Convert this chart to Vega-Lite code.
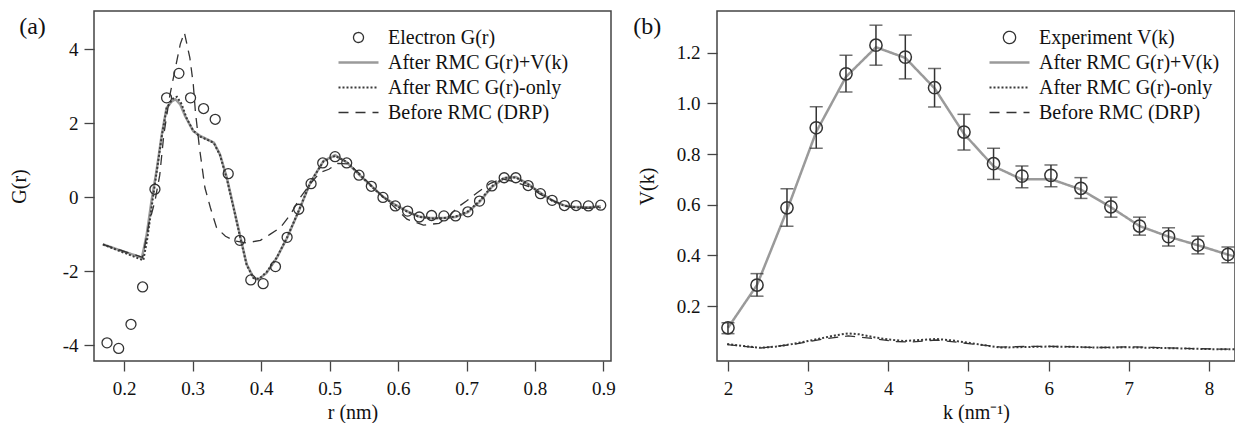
{
  "$schema": "https://vega.github.io/schema/vega-lite/v6.json",
  "background": "white",
  "padding": {"left": 8, "top": 10, "right": 0, "bottom": 0},
  "spacing": 15,
  "datasets": {
    "gr_exp": [
      {"r": 0.175, "G": -3.93, "series": "Electron G(r)"},
      {"r": 0.192, "G": -4.08, "series": "Electron G(r)"},
      {"r": 0.210, "G": -3.43, "series": "Electron G(r)"},
      {"r": 0.227, "G": -2.42, "series": "Electron G(r)"},
      {"r": 0.245, "G": 0.22, "series": "Electron G(r)"},
      {"r": 0.262, "G": 2.69, "series": "Electron G(r)"},
      {"r": 0.280, "G": 3.35, "series": "Electron G(r)"},
      {"r": 0.297, "G": 2.69, "series": "Electron G(r)"},
      {"r": 0.316, "G": 2.40, "series": "Electron G(r)"},
      {"r": 0.333, "G": 2.11, "series": "Electron G(r)"},
      {"r": 0.352, "G": 0.64, "series": "Electron G(r)"},
      {"r": 0.369, "G": -1.16, "series": "Electron G(r)"},
      {"r": 0.385, "G": -2.23, "series": "Electron G(r)"},
      {"r": 0.403, "G": -2.33, "series": "Electron G(r)"},
      {"r": 0.421, "G": -1.87, "series": "Electron G(r)"},
      {"r": 0.438, "G": -1.08, "series": "Electron G(r)"},
      {"r": 0.455, "G": -0.32, "series": "Electron G(r)"},
      {"r": 0.473, "G": 0.37, "series": "Electron G(r)"},
      {"r": 0.490, "G": 0.93, "series": "Electron G(r)"},
      {"r": 0.508, "G": 1.10, "series": "Electron G(r)"},
      {"r": 0.525, "G": 0.93, "series": "Electron G(r)"},
      {"r": 0.543, "G": 0.60, "series": "Electron G(r)"},
      {"r": 0.561, "G": 0.30, "series": "Electron G(r)"},
      {"r": 0.578, "G": 0.00, "series": "Electron G(r)"},
      {"r": 0.596, "G": -0.23, "series": "Electron G(r)"},
      {"r": 0.614, "G": -0.37, "series": "Electron G(r)"},
      {"r": 0.631, "G": -0.53, "series": "Electron G(r)"},
      {"r": 0.649, "G": -0.49, "series": "Electron G(r)"},
      {"r": 0.667, "G": -0.50, "series": "Electron G(r)"},
      {"r": 0.684, "G": -0.50, "series": "Electron G(r)"},
      {"r": 0.702, "G": -0.39, "series": "Electron G(r)"},
      {"r": 0.719, "G": -0.10, "series": "Electron G(r)"},
      {"r": 0.737, "G": 0.31, "series": "Electron G(r)"},
      {"r": 0.755, "G": 0.53, "series": "Electron G(r)"},
      {"r": 0.772, "G": 0.53, "series": "Electron G(r)"},
      {"r": 0.790, "G": 0.32, "series": "Electron G(r)"},
      {"r": 0.808, "G": 0.10, "series": "Electron G(r)"},
      {"r": 0.825, "G": -0.08, "series": "Electron G(r)"},
      {"r": 0.843, "G": -0.22, "series": "Electron G(r)"},
      {"r": 0.860, "G": -0.22, "series": "Electron G(r)"},
      {"r": 0.878, "G": -0.23, "series": "Electron G(r)"},
      {"r": 0.896, "G": -0.21, "series": "Electron G(r)"}
    ],
    "gr_lines": [
      {"r": 0.169, "G": -1.27, "series": "After RMC G(r)+V(k)"},
      {"r": 0.226, "G": -1.63, "series": "After RMC G(r)+V(k)"},
      {"r": 0.233, "G": -1.00, "series": "After RMC G(r)+V(k)"},
      {"r": 0.240, "G": -0.10, "series": "After RMC G(r)+V(k)"},
      {"r": 0.248, "G": 0.80, "series": "After RMC G(r)+V(k)"},
      {"r": 0.255, "G": 1.70, "series": "After RMC G(r)+V(k)"},
      {"r": 0.262, "G": 2.42, "series": "After RMC G(r)+V(k)"},
      {"r": 0.270, "G": 2.60, "series": "After RMC G(r)+V(k)"},
      {"r": 0.275, "G": 2.65, "series": "After RMC G(r)+V(k)"},
      {"r": 0.282, "G": 2.51, "series": "After RMC G(r)+V(k)"},
      {"r": 0.289, "G": 2.20, "series": "After RMC G(r)+V(k)"},
      {"r": 0.301, "G": 1.79, "series": "After RMC G(r)+V(k)"},
      {"r": 0.311, "G": 1.66, "series": "After RMC G(r)+V(k)"},
      {"r": 0.321, "G": 1.57, "series": "After RMC G(r)+V(k)"},
      {"r": 0.331, "G": 1.48, "series": "After RMC G(r)+V(k)"},
      {"r": 0.340, "G": 1.16, "series": "After RMC G(r)+V(k)"},
      {"r": 0.350, "G": 0.53, "series": "After RMC G(r)+V(k)"},
      {"r": 0.360, "G": -0.28, "series": "After RMC G(r)+V(k)"},
      {"r": 0.370, "G": -1.09, "series": "After RMC G(r)+V(k)"},
      {"r": 0.379, "G": -1.81, "series": "After RMC G(r)+V(k)"},
      {"r": 0.389, "G": -2.17, "series": "After RMC G(r)+V(k)"},
      {"r": 0.396, "G": -2.22, "series": "After RMC G(r)+V(k)"},
      {"r": 0.408, "G": -2.04, "series": "After RMC G(r)+V(k)"},
      {"r": 0.423, "G": -1.63, "series": "After RMC G(r)+V(k)"},
      {"r": 0.438, "G": -1.09, "series": "After RMC G(r)+V(k)"},
      {"r": 0.455, "G": -0.37, "series": "After RMC G(r)+V(k)"},
      {"r": 0.472, "G": 0.40, "series": "After RMC G(r)+V(k)"},
      {"r": 0.491, "G": 0.98, "series": "After RMC G(r)+V(k)"},
      {"r": 0.508, "G": 1.14, "series": "After RMC G(r)+V(k)"},
      {"r": 0.525, "G": 0.95, "series": "After RMC G(r)+V(k)"},
      {"r": 0.543, "G": 0.62, "series": "After RMC G(r)+V(k)"},
      {"r": 0.561, "G": 0.31, "series": "After RMC G(r)+V(k)"},
      {"r": 0.578, "G": 0.02, "series": "After RMC G(r)+V(k)"},
      {"r": 0.596, "G": -0.20, "series": "After RMC G(r)+V(k)"},
      {"r": 0.614, "G": -0.38, "series": "After RMC G(r)+V(k)"},
      {"r": 0.631, "G": -0.52, "series": "After RMC G(r)+V(k)"},
      {"r": 0.649, "G": -0.56, "series": "After RMC G(r)+V(k)"},
      {"r": 0.667, "G": -0.56, "series": "After RMC G(r)+V(k)"},
      {"r": 0.684, "G": -0.53, "series": "After RMC G(r)+V(k)"},
      {"r": 0.702, "G": -0.40, "series": "After RMC G(r)+V(k)"},
      {"r": 0.719, "G": -0.12, "series": "After RMC G(r)+V(k)"},
      {"r": 0.737, "G": 0.28, "series": "After RMC G(r)+V(k)"},
      {"r": 0.755, "G": 0.52, "series": "After RMC G(r)+V(k)"},
      {"r": 0.772, "G": 0.55, "series": "After RMC G(r)+V(k)"},
      {"r": 0.790, "G": 0.36, "series": "After RMC G(r)+V(k)"},
      {"r": 0.808, "G": 0.12, "series": "After RMC G(r)+V(k)"},
      {"r": 0.825, "G": -0.08, "series": "After RMC G(r)+V(k)"},
      {"r": 0.843, "G": -0.22, "series": "After RMC G(r)+V(k)"},
      {"r": 0.860, "G": -0.26, "series": "After RMC G(r)+V(k)"},
      {"r": 0.878, "G": -0.27, "series": "After RMC G(r)+V(k)"},
      {"r": 0.896, "G": -0.24, "series": "After RMC G(r)+V(k)"},
      {"r": 0.169, "G": -1.27, "series": "After RMC G(r)-only"},
      {"r": 0.228, "G": -1.70, "series": "After RMC G(r)-only"},
      {"r": 0.234, "G": -1.10, "series": "After RMC G(r)-only"},
      {"r": 0.241, "G": -0.15, "series": "After RMC G(r)-only"},
      {"r": 0.248, "G": 0.75, "series": "After RMC G(r)-only"},
      {"r": 0.255, "G": 1.65, "series": "After RMC G(r)-only"},
      {"r": 0.262, "G": 2.40, "series": "After RMC G(r)-only"},
      {"r": 0.270, "G": 2.65, "series": "After RMC G(r)-only"},
      {"r": 0.277, "G": 2.72, "series": "After RMC G(r)-only"},
      {"r": 0.284, "G": 2.52, "series": "After RMC G(r)-only"},
      {"r": 0.291, "G": 2.15, "series": "After RMC G(r)-only"},
      {"r": 0.301, "G": 1.80, "series": "After RMC G(r)-only"},
      {"r": 0.311, "G": 1.64, "series": "After RMC G(r)-only"},
      {"r": 0.321, "G": 1.56, "series": "After RMC G(r)-only"},
      {"r": 0.331, "G": 1.47, "series": "After RMC G(r)-only"},
      {"r": 0.340, "G": 1.14, "series": "After RMC G(r)-only"},
      {"r": 0.350, "G": 0.50, "series": "After RMC G(r)-only"},
      {"r": 0.360, "G": -0.30, "series": "After RMC G(r)-only"},
      {"r": 0.370, "G": -1.12, "series": "After RMC G(r)-only"},
      {"r": 0.379, "G": -1.83, "series": "After RMC G(r)-only"},
      {"r": 0.389, "G": -2.18, "series": "After RMC G(r)-only"},
      {"r": 0.397, "G": -2.20, "series": "After RMC G(r)-only"},
      {"r": 0.408, "G": -2.02, "series": "After RMC G(r)-only"},
      {"r": 0.423, "G": -1.62, "series": "After RMC G(r)-only"},
      {"r": 0.438, "G": -1.08, "series": "After RMC G(r)-only"},
      {"r": 0.455, "G": -0.36, "series": "After RMC G(r)-only"},
      {"r": 0.472, "G": 0.41, "series": "After RMC G(r)-only"},
      {"r": 0.491, "G": 0.97, "series": "After RMC G(r)-only"},
      {"r": 0.508, "G": 1.12, "series": "After RMC G(r)-only"},
      {"r": 0.525, "G": 0.96, "series": "After RMC G(r)-only"},
      {"r": 0.543, "G": 0.63, "series": "After RMC G(r)-only"},
      {"r": 0.561, "G": 0.30, "series": "After RMC G(r)-only"},
      {"r": 0.578, "G": 0.01, "series": "After RMC G(r)-only"},
      {"r": 0.596, "G": -0.21, "series": "After RMC G(r)-only"},
      {"r": 0.614, "G": -0.39, "series": "After RMC G(r)-only"},
      {"r": 0.631, "G": -0.53, "series": "After RMC G(r)-only"},
      {"r": 0.649, "G": -0.57, "series": "After RMC G(r)-only"},
      {"r": 0.667, "G": -0.56, "series": "After RMC G(r)-only"},
      {"r": 0.684, "G": -0.52, "series": "After RMC G(r)-only"},
      {"r": 0.702, "G": -0.38, "series": "After RMC G(r)-only"},
      {"r": 0.719, "G": -0.10, "series": "After RMC G(r)-only"},
      {"r": 0.737, "G": 0.30, "series": "After RMC G(r)-only"},
      {"r": 0.755, "G": 0.53, "series": "After RMC G(r)-only"},
      {"r": 0.772, "G": 0.54, "series": "After RMC G(r)-only"},
      {"r": 0.790, "G": 0.35, "series": "After RMC G(r)-only"},
      {"r": 0.808, "G": 0.11, "series": "After RMC G(r)-only"},
      {"r": 0.825, "G": -0.09, "series": "After RMC G(r)-only"},
      {"r": 0.843, "G": -0.23, "series": "After RMC G(r)-only"},
      {"r": 0.860, "G": -0.27, "series": "After RMC G(r)-only"},
      {"r": 0.878, "G": -0.28, "series": "After RMC G(r)-only"},
      {"r": 0.896, "G": -0.25, "series": "After RMC G(r)-only"},
      {"r": 0.169, "G": -1.27, "series": "Before RMC (DRP)"},
      {"r": 0.227, "G": -1.62, "series": "Before RMC (DRP)"},
      {"r": 0.236, "G": -0.73, "series": "Before RMC (DRP)"},
      {"r": 0.245, "G": -0.10, "series": "Before RMC (DRP)"},
      {"r": 0.252, "G": 0.60, "series": "Before RMC (DRP)"},
      {"r": 0.258, "G": 1.70, "series": "Before RMC (DRP)"},
      {"r": 0.267, "G": 2.78, "series": "Before RMC (DRP)"},
      {"r": 0.276, "G": 3.60, "series": "Before RMC (DRP)"},
      {"r": 0.282, "G": 4.14, "series": "Before RMC (DRP)"},
      {"r": 0.288, "G": 4.45, "series": "Before RMC (DRP)"},
      {"r": 0.296, "G": 3.77, "series": "Before RMC (DRP)"},
      {"r": 0.301, "G": 3.05, "series": "Before RMC (DRP)"},
      {"r": 0.304, "G": 2.33, "series": "Before RMC (DRP)"},
      {"r": 0.310, "G": 1.34, "series": "Before RMC (DRP)"},
      {"r": 0.318, "G": 0.26, "series": "Before RMC (DRP)"},
      {"r": 0.326, "G": -0.28, "series": "Before RMC (DRP)"},
      {"r": 0.335, "G": -0.82, "series": "Before RMC (DRP)"},
      {"r": 0.348, "G": -1.05, "series": "Before RMC (DRP)"},
      {"r": 0.362, "G": -1.18, "series": "Before RMC (DRP)"},
      {"r": 0.379, "G": -1.23, "series": "Before RMC (DRP)"},
      {"r": 0.399, "G": -1.16, "series": "Before RMC (DRP)"},
      {"r": 0.413, "G": -1.00, "series": "Before RMC (DRP)"},
      {"r": 0.428, "G": -0.82, "series": "Before RMC (DRP)"},
      {"r": 0.443, "G": -0.46, "series": "Before RMC (DRP)"},
      {"r": 0.457, "G": -0.01, "series": "Before RMC (DRP)"},
      {"r": 0.472, "G": 0.37, "series": "Before RMC (DRP)"},
      {"r": 0.486, "G": 0.67, "series": "Before RMC (DRP)"},
      {"r": 0.499, "G": 0.76, "series": "Before RMC (DRP)"},
      {"r": 0.512, "G": 0.92, "series": "Before RMC (DRP)"},
      {"r": 0.528, "G": 0.90, "series": "Before RMC (DRP)"},
      {"r": 0.545, "G": 0.62, "series": "Before RMC (DRP)"},
      {"r": 0.563, "G": 0.28, "series": "Before RMC (DRP)"},
      {"r": 0.580, "G": -0.02, "series": "Before RMC (DRP)"},
      {"r": 0.597, "G": -0.30, "series": "Before RMC (DRP)"},
      {"r": 0.613, "G": -0.59, "series": "Before RMC (DRP)"},
      {"r": 0.637, "G": -0.75, "series": "Before RMC (DRP)"},
      {"r": 0.660, "G": -0.70, "series": "Before RMC (DRP)"},
      {"r": 0.675, "G": -0.50, "series": "Before RMC (DRP)"},
      {"r": 0.686, "G": -0.28, "series": "Before RMC (DRP)"},
      {"r": 0.700, "G": -0.10, "series": "Before RMC (DRP)"},
      {"r": 0.715, "G": 0.12, "series": "Before RMC (DRP)"},
      {"r": 0.735, "G": 0.38, "series": "Before RMC (DRP)"},
      {"r": 0.752, "G": 0.50, "series": "Before RMC (DRP)"},
      {"r": 0.770, "G": 0.42, "series": "Before RMC (DRP)"},
      {"r": 0.790, "G": 0.30, "series": "Before RMC (DRP)"},
      {"r": 0.808, "G": 0.08, "series": "Before RMC (DRP)"},
      {"r": 0.828, "G": -0.10, "series": "Before RMC (DRP)"},
      {"r": 0.848, "G": -0.25, "series": "Before RMC (DRP)"},
      {"r": 0.868, "G": -0.30, "series": "Before RMC (DRP)"},
      {"r": 0.896, "G": -0.28, "series": "Before RMC (DRP)"}
    ],
    "vk_exp": [
      {"k": 2.000, "V": 0.114, "lo": 0.091, "hi": 0.134, "series": "Experiment V(k)"},
      {"k": 2.362, "V": 0.283, "lo": 0.239, "hi": 0.328, "series": "Experiment V(k)"},
      {"k": 2.736, "V": 0.588, "lo": 0.515, "hi": 0.663, "series": "Experiment V(k)"},
      {"k": 3.101, "V": 0.904, "lo": 0.823, "hi": 0.987, "series": "Experiment V(k)"},
      {"k": 3.472, "V": 1.117, "lo": 1.045, "hi": 1.190, "series": "Experiment V(k)"},
      {"k": 3.846, "V": 1.230, "lo": 1.151, "hi": 1.309, "series": "Experiment V(k)"},
      {"k": 4.212, "V": 1.183, "lo": 1.097, "hi": 1.270, "series": "Experiment V(k)"},
      {"k": 4.577, "V": 1.062, "lo": 0.986, "hi": 1.138, "series": "Experiment V(k)"},
      {"k": 4.944, "V": 0.887, "lo": 0.816, "hi": 0.957, "series": "Experiment V(k)"},
      {"k": 5.313, "V": 0.762, "lo": 0.700, "hi": 0.823, "series": "Experiment V(k)"},
      {"k": 5.667, "V": 0.713, "lo": 0.667, "hi": 0.753, "series": "Experiment V(k)"},
      {"k": 6.029, "V": 0.716, "lo": 0.671, "hi": 0.757, "series": "Experiment V(k)"},
      {"k": 6.403, "V": 0.665, "lo": 0.625, "hi": 0.707, "series": "Experiment V(k)"},
      {"k": 6.777, "V": 0.592, "lo": 0.551, "hi": 0.630, "series": "Experiment V(k)"},
      {"k": 7.134, "V": 0.516, "lo": 0.480, "hi": 0.551, "series": "Experiment V(k)"},
      {"k": 7.496, "V": 0.474, "lo": 0.437, "hi": 0.509, "series": "Experiment V(k)"},
      {"k": 7.863, "V": 0.441, "lo": 0.406, "hi": 0.476, "series": "Experiment V(k)"},
      {"k": 8.237, "V": 0.404, "lo": 0.371, "hi": 0.433, "series": "Experiment V(k)"}
    ],
    "vk_lines": [
      {"k": 2.000, "V": 0.114, "series": "After RMC G(r)+V(k)"},
      {"k": 2.362, "V": 0.283, "series": "After RMC G(r)+V(k)"},
      {"k": 2.736, "V": 0.578, "series": "After RMC G(r)+V(k)"},
      {"k": 3.101, "V": 0.888, "series": "After RMC G(r)+V(k)"},
      {"k": 3.472, "V": 1.105, "series": "After RMC G(r)+V(k)"},
      {"k": 3.846, "V": 1.222, "series": "After RMC G(r)+V(k)"},
      {"k": 4.212, "V": 1.180, "series": "After RMC G(r)+V(k)"},
      {"k": 4.577, "V": 1.060, "series": "After RMC G(r)+V(k)"},
      {"k": 4.944, "V": 0.880, "series": "After RMC G(r)+V(k)"},
      {"k": 5.313, "V": 0.752, "series": "After RMC G(r)+V(k)"},
      {"k": 5.667, "V": 0.700, "series": "After RMC G(r)+V(k)"},
      {"k": 6.029, "V": 0.701, "series": "After RMC G(r)+V(k)"},
      {"k": 6.403, "V": 0.660, "series": "After RMC G(r)+V(k)"},
      {"k": 6.777, "V": 0.590, "series": "After RMC G(r)+V(k)"},
      {"k": 7.134, "V": 0.516, "series": "After RMC G(r)+V(k)"},
      {"k": 7.496, "V": 0.474, "series": "After RMC G(r)+V(k)"},
      {"k": 7.863, "V": 0.440, "series": "After RMC G(r)+V(k)"},
      {"k": 8.237, "V": 0.403, "series": "After RMC G(r)+V(k)"},
      {"k": 8.330, "V": 0.395, "series": "After RMC G(r)+V(k)"},
      {"k": 1.99, "V": 0.050, "series": "After RMC G(r)-only"},
      {"k": 2.2, "V": 0.042, "series": "After RMC G(r)-only"},
      {"k": 2.4, "V": 0.035, "series": "After RMC G(r)-only"},
      {"k": 2.6, "V": 0.040, "series": "After RMC G(r)-only"},
      {"k": 2.8, "V": 0.050, "series": "After RMC G(r)-only"},
      {"k": 3.0, "V": 0.062, "series": "After RMC G(r)-only"},
      {"k": 3.2, "V": 0.075, "series": "After RMC G(r)-only"},
      {"k": 3.35, "V": 0.085, "series": "After RMC G(r)-only"},
      {"k": 3.5, "V": 0.092, "series": "After RMC G(r)-only"},
      {"k": 3.65, "V": 0.088, "series": "After RMC G(r)-only"},
      {"k": 3.8, "V": 0.078, "series": "After RMC G(r)-only"},
      {"k": 4.0, "V": 0.068, "series": "After RMC G(r)-only"},
      {"k": 4.2, "V": 0.062, "series": "After RMC G(r)-only"},
      {"k": 4.4, "V": 0.066, "series": "After RMC G(r)-only"},
      {"k": 4.6, "V": 0.070, "series": "After RMC G(r)-only"},
      {"k": 4.8, "V": 0.064, "series": "After RMC G(r)-only"},
      {"k": 5.0, "V": 0.055, "series": "After RMC G(r)-only"},
      {"k": 5.2, "V": 0.045, "series": "After RMC G(r)-only"},
      {"k": 5.4, "V": 0.036, "series": "After RMC G(r)-only"},
      {"k": 5.7, "V": 0.038, "series": "After RMC G(r)-only"},
      {"k": 6.0, "V": 0.040, "series": "After RMC G(r)-only"},
      {"k": 6.3, "V": 0.039, "series": "After RMC G(r)-only"},
      {"k": 6.6, "V": 0.036, "series": "After RMC G(r)-only"},
      {"k": 7.0, "V": 0.037, "series": "After RMC G(r)-only"},
      {"k": 7.3, "V": 0.035, "series": "After RMC G(r)-only"},
      {"k": 7.6, "V": 0.033, "series": "After RMC G(r)-only"},
      {"k": 8.0, "V": 0.030, "series": "After RMC G(r)-only"},
      {"k": 8.33, "V": 0.029, "series": "After RMC G(r)-only"},
      {"k": 1.99, "V": 0.048, "series": "Before RMC (DRP)"},
      {"k": 2.4, "V": 0.034, "series": "Before RMC (DRP)"},
      {"k": 2.8, "V": 0.048, "series": "Before RMC (DRP)"},
      {"k": 3.2, "V": 0.070, "series": "Before RMC (DRP)"},
      {"k": 3.5, "V": 0.082, "series": "Before RMC (DRP)"},
      {"k": 3.8, "V": 0.072, "series": "Before RMC (DRP)"},
      {"k": 4.1, "V": 0.060, "series": "Before RMC (DRP)"},
      {"k": 4.3, "V": 0.058, "series": "Before RMC (DRP)"},
      {"k": 4.6, "V": 0.066, "series": "Before RMC (DRP)"},
      {"k": 5.0, "V": 0.052, "series": "Before RMC (DRP)"},
      {"k": 5.4, "V": 0.038, "series": "Before RMC (DRP)"},
      {"k": 5.8, "V": 0.041, "series": "Before RMC (DRP)"},
      {"k": 6.2, "V": 0.040, "series": "Before RMC (DRP)"},
      {"k": 6.6, "V": 0.036, "series": "Before RMC (DRP)"},
      {"k": 7.0, "V": 0.039, "series": "Before RMC (DRP)"},
      {"k": 7.4, "V": 0.036, "series": "Before RMC (DRP)"},
      {"k": 7.8, "V": 0.032, "series": "Before RMC (DRP)"},
      {"k": 8.33, "V": 0.029, "series": "Before RMC (DRP)"}
    ]
  },
  "hconcat": [
    {
      "width": 517,
      "height": 350,
      "title": {"text": "(a)", "anchor": "start", "frame": "bounds", "orient": "top", "baseline": "top", "offset": -28, "dx": 10, "fontSize": 24, "font": "Liberation Serif", "fontWeight": "normal", "color": "#111"},
      "layer": [
        {
          "data": {"name": "gr_lines"},
          "mark": {"type": "line", "clip": true},
          "encoding": {
            "x": {"field": "r", "type": "quantitative", "title": "r (nm)", "scale": {"domain": [0.156, 0.911], "nice": false, "zero": false}, "axis": {"values": [0.2, 0.3, 0.4, 0.5, 0.6, 0.7, 0.8, 0.9], "format": ".1f", "labelPadding": 8, "titlePadding": 4}},
            "y": {"field": "G", "type": "quantitative", "title": "G(r)", "scale": {"domain": [-4.42, 5.035], "nice": false, "zero": false}, "axis": {"values": [-4, -2, 0, 2, 4], "labelExpr": "'' + datum.value", "labelPadding": 6, "titlePadding": 33}},
            "color": {"field": "series", "type": "nominal", "scale": {"type": "ordinal", "domain": ["Electron G(r)", "After RMC G(r)+V(k)", "After RMC G(r)-only", "Before RMC (DRP)"], "range": ["#333333", "#9a9a9a", "#3a3a3a", "#333333"]}, "legend": {"title": null, "orient": "none", "legendX": 243, "legendY": 15}},
            "strokeDash": {"field": "series", "type": "nominal", "scale": {"type": "ordinal", "domain": ["Electron G(r)", "After RMC G(r)+V(k)", "After RMC G(r)-only", "Before RMC (DRP)"], "range": [[1, 0], [1, 0], [2, 2], [10, 7]]}, "legend": {"title": null, "orient": "none", "legendX": 243, "legendY": 15}},
            "strokeWidth": {"field": "series", "type": "nominal", "scale": {"type": "ordinal", "domain": ["Electron G(r)", "After RMC G(r)+V(k)", "After RMC G(r)-only", "Before RMC (DRP)"], "range": [1.3, 2.5, 2, 1.3]}, "legend": {"title": null, "orient": "none", "legendX": 243, "legendY": 15}}
          }
        },
        {
          "data": {"name": "gr_exp"},
          "mark": {"type": "point", "filled": false, "strokeWidth": 1.3, "opacity": 1},
          "encoding": {
            "x": {"field": "r", "type": "quantitative"},
            "y": {"field": "G", "type": "quantitative"},
            "color": {"field": "series", "type": "nominal", "scale": {"type": "ordinal", "domain": ["Electron G(r)", "After RMC G(r)+V(k)", "After RMC G(r)-only", "Before RMC (DRP)"], "range": ["#333333", "#9a9a9a", "#3a3a3a", "#333333"]}, "legend": {"title": null, "orient": "none", "legendX": 243, "legendY": 15}},
            "shape": {"field": "series", "type": "nominal", "scale": {"type": "ordinal", "domain": ["Electron G(r)", "After RMC G(r)+V(k)", "After RMC G(r)-only", "Before RMC (DRP)"], "range": ["circle", "stroke", "stroke", "stroke"]}, "legend": {"title": null, "orient": "none", "legendX": 243, "legendY": 15}},
            "size": {"field": "series", "type": "nominal", "scale": {"type": "ordinal", "domain": ["Electron G(r)", "After RMC G(r)+V(k)", "After RMC G(r)-only", "Before RMC (DRP)"], "range": [100, 1600, 1600, 1600]}, "legend": {"title": null, "orient": "none", "legendX": 243, "legendY": 15}}
          }
        }
      ]
    },
    {
      "width": 518,
      "height": 350,
      "title": {"text": "(b)", "anchor": "start", "frame": "bounds", "orient": "top", "baseline": "top", "offset": -28, "dx": -4, "fontSize": 24, "font": "Liberation Serif", "fontWeight": "normal", "color": "#111"},
      "layer": [
        {
          "data": {"name": "vk_lines"},
          "mark": {"type": "line", "clip": true},
          "encoding": {
            "x": {"field": "k", "type": "quantitative", "title": "k (nm⁻¹)", "scale": {"domain": [1.863, 8.325], "nice": false, "zero": false}, "axis": {"values": [2, 3, 4, 5, 6, 7, 8], "format": "d", "labelPadding": 8, "titlePadding": 4}},
            "y": {"field": "V", "type": "quantitative", "title": "V(k)", "scale": {"domain": [-0.017, 1.365], "nice": false, "zero": false}, "axis": {"values": [0.2, 0.4, 0.6, 0.8, 1.0, 1.2], "format": ".1f", "labelPadding": 7, "titlePadding": 19}},
            "color": {"field": "series", "type": "nominal", "scale": {"type": "ordinal", "domain": ["Experiment V(k)", "After RMC G(r)+V(k)", "After RMC G(r)-only", "Before RMC (DRP)"], "range": ["#333333", "#9a9a9a", "#3a3a3a", "#333333"]}, "legend": {"title": null, "orient": "none", "legendX": 271, "legendY": 15}},
            "strokeDash": {"field": "series", "type": "nominal", "scale": {"type": "ordinal", "domain": ["Experiment V(k)", "After RMC G(r)+V(k)", "After RMC G(r)-only", "Before RMC (DRP)"], "range": [[1, 0], [1, 0], [2, 2], [10, 7]]}, "legend": {"title": null, "orient": "none", "legendX": 271, "legendY": 15}},
            "strokeWidth": {"field": "series", "type": "nominal", "scale": {"type": "ordinal", "domain": ["Experiment V(k)", "After RMC G(r)+V(k)", "After RMC G(r)-only", "Before RMC (DRP)"], "range": [1.3, 2.5, 2, 1.3]}, "legend": {"title": null, "orient": "none", "legendX": 271, "legendY": 15}}
          }
        },
        {
          "data": {"name": "vk_exp"},
          "mark": {"type": "rule", "color": "#333333", "strokeWidth": 1.5},
          "encoding": {
            "x": {"field": "k", "type": "quantitative"},
            "y": {"field": "lo", "type": "quantitative"},
            "y2": {"field": "hi"}
          }
        },
        {
          "data": {"name": "vk_exp"},
          "mark": {"type": "tick", "orient": "horizontal", "size": 13, "thickness": 1.5, "color": "#333333"},
          "encoding": {
            "x": {"field": "k", "type": "quantitative"},
            "y": {"field": "lo", "type": "quantitative"}
          }
        },
        {
          "data": {"name": "vk_exp"},
          "mark": {"type": "tick", "orient": "horizontal", "size": 13, "thickness": 1.5, "color": "#333333"},
          "encoding": {
            "x": {"field": "k", "type": "quantitative"},
            "y": {"field": "hi", "type": "quantitative"}
          }
        },
        {
          "data": {"name": "vk_exp"},
          "mark": {"type": "point", "filled": false, "strokeWidth": 1.5, "opacity": 1},
          "encoding": {
            "x": {"field": "k", "type": "quantitative"},
            "y": {"field": "V", "type": "quantitative"},
            "color": {"field": "series", "type": "nominal", "scale": {"type": "ordinal", "domain": ["Experiment V(k)", "After RMC G(r)+V(k)", "After RMC G(r)-only", "Before RMC (DRP)"], "range": ["#333333", "#9a9a9a", "#3a3a3a", "#333333"]}, "legend": {"title": null, "orient": "none", "legendX": 271, "legendY": 15}},
            "shape": {"field": "series", "type": "nominal", "scale": {"type": "ordinal", "domain": ["Experiment V(k)", "After RMC G(r)+V(k)", "After RMC G(r)-only", "Before RMC (DRP)"], "range": ["circle", "stroke", "stroke", "stroke"]}, "legend": {"title": null, "orient": "none", "legendX": 271, "legendY": 15}},
            "size": {"field": "series", "type": "nominal", "scale": {"type": "ordinal", "domain": ["Experiment V(k)", "After RMC G(r)+V(k)", "After RMC G(r)-only", "Before RMC (DRP)"], "range": [150, 1600, 1600, 1600]}, "legend": {"title": null, "orient": "none", "legendX": 271, "legendY": 15}}
          }
        }
      ]
    }
  ],
  "resolve": {
    "scale": {"x": "independent", "y": "independent", "color": "independent", "shape": "independent", "size": "independent", "strokeDash": "independent", "strokeWidth": "independent"},
    "legend": {"color": "independent", "shape": "independent", "size": "independent", "strokeDash": "independent", "strokeWidth": "independent"}
  },
  "config": {
    "font": "Liberation Serif",
    "view": {"stroke": "#444444", "strokeWidth": 1.5},
    "axis": {"domain": false, "grid": false, "ticks": true, "tickSize": 10, "tickColor": "#444444", "tickWidth": 1.3, "labelFont": "Liberation Serif", "labelFontSize": 19, "labelColor": "#111111", "titleFont": "Liberation Serif", "titleFontSize": 20, "titleFontWeight": "normal", "titleColor": "#111111"},
    "legend": {"labelFont": "Liberation Serif", "labelFontSize": 20, "labelColor": "#111111", "labelOffset": 8, "labelLimit": 400, "clipHeight": 23, "rowPadding": 2, "padding": 0}
  }
}
